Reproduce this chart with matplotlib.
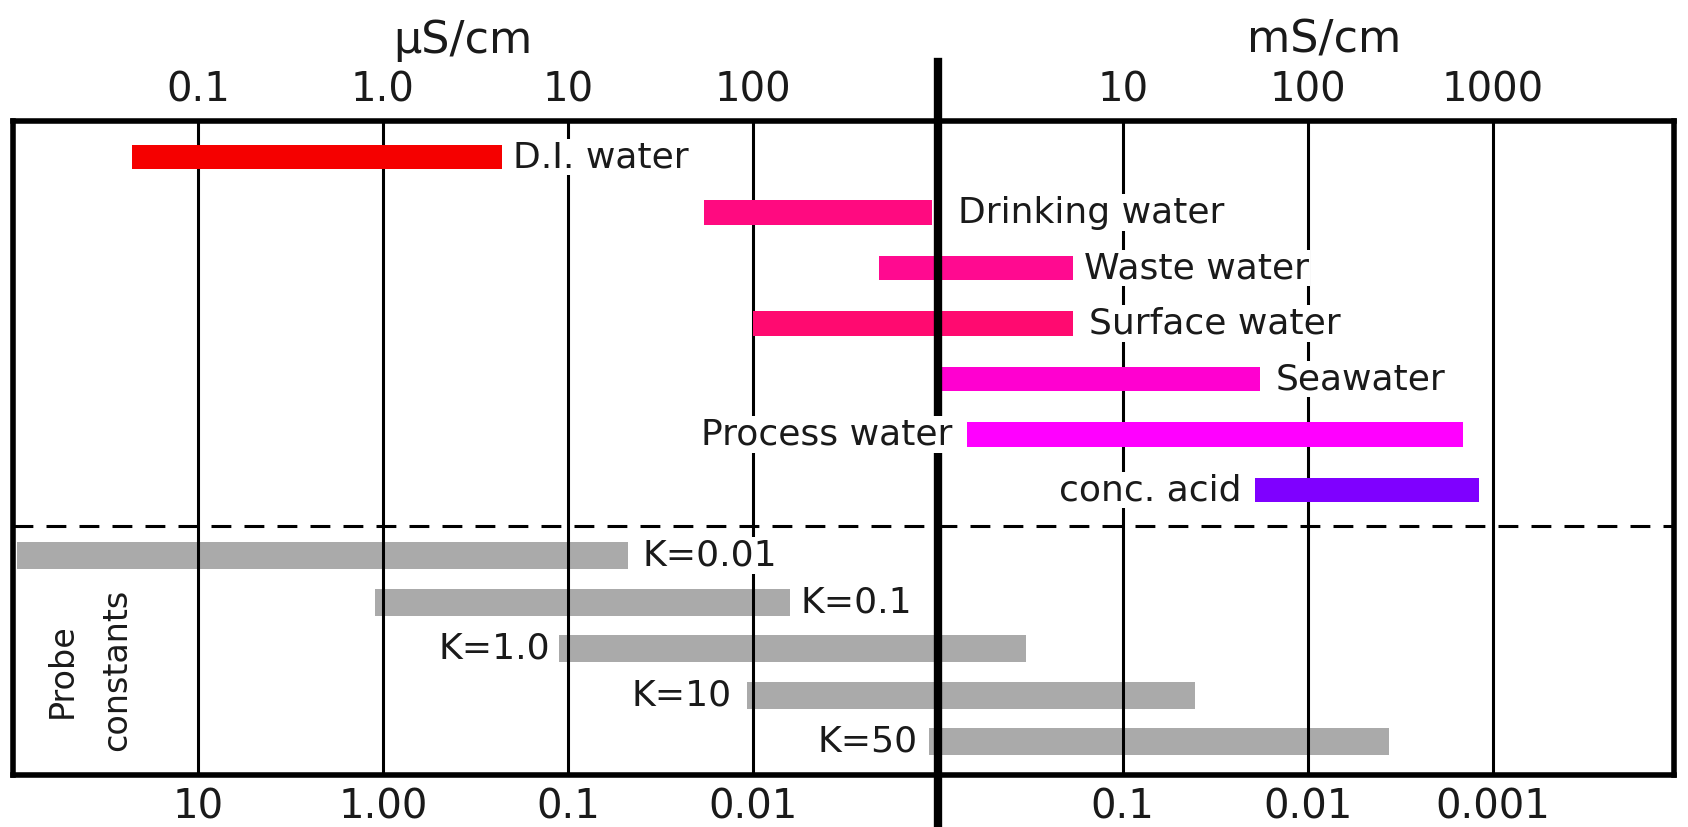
import numpy as np
import matplotlib
matplotlib.use("Agg")
import matplotlib.pyplot as plt
from matplotlib.ticker import NullLocator

# conductivity ranges, uS/cm
samples = ["D.I. water", "Drinking water", "Waste water", "Surface water",
           "Seawater", "Process water", "conc. acid"]
sample_low = [0.044, 54.5, 479, 100, 1047, 1445, 52100]
sample_high = [4.4, 929, 5370, 5370, 55000, 692000, 845000]
sample_colors = ["#f50000", "#ff0a80", "#ff0a90", "#ff0a70",
                 "#ff00d0", "#ff00ff", "#7f00ff"]
sample_label_left = [False, False, False, False, False, True, True]

probes = ["K=0.01", "K=0.1", "K=1.0", "K=10", "K=50"]
probe_low = [0.0105, 0.906, 8.9, 92.5, 891]
probe_high = [21.1, 158, 2985, 24500, 275000]
probe_label_left = [False, False, True, True, True]

# decade ticks in uS/cm
ticks = [0.1, 1, 10, 100, 1e4, 1e5, 1e6]
top_labels = ["0.1", "1.0", "10", "100", "10", "100", "1000"]
bottom_labels = ["10", "1.00", "0.1", "0.01", "0.1", "0.01", "0.001"]
split = 1000  # 1 mS/cm

plt.rcParams['font.family'] = ['DejaVu Sans']
txt_color = "#1a1a1a"

fig = plt.figure(figsize=(16.88, 8.27), dpi=100)
ax = fig.add_axes([13 / 1688, 52 / 827, 1661 / 1688, 654.4 / 827])
ax.set_xscale("log")
ax.set_xlim(1e-2, 10 ** 6.98)
ax.set_ylim(11.135, -0.656)
ax.minorticks_off()

bar_h = 0.45
sample_y = np.arange(len(samples))
probe_y = 7.18 + 0.84 * np.arange(len(probes))

# grid lines
for t in ticks:
    ax.axvline(t, color="black", lw=2.2, zorder=2)
ax.axvline(split, ymin=-0.08, ymax=1.09, color="black", lw=6, zorder=4,
           clip_on=False)
ax.axhline(6.65, color="black", lw=2.2, ls=(0, (6.5, 4.3)), zorder=2)

ax.barh(probe_y, np.array(probe_high) - np.array(probe_low), left=probe_low,
        height=bar_h * 1.08, color="#aaaaaa", zorder=1)
ax.barh(sample_y, np.array(sample_high) - np.array(sample_low), left=sample_low,
        height=bar_h, color=sample_colors, zorder=3)

gap_sample = [11, 26, 11, 16, 16, 15, 14]
gap_probe = [15, 11, 8, 15, 11]


def put_label(name, y, lo, hi, left, g):
    if left:
        ax.annotate(name, (lo, y), xytext=(-g, 0), textcoords="offset pixels",
                    ha="right", va="center", fontsize=26, color=txt_color,
                    zorder=5, bbox=dict(fc="white", ec="none", pad=1))
    else:
        ax.annotate(name, (hi, y), xytext=(g, 0), textcoords="offset pixels",
                    ha="left", va="center", fontsize=26, color=txt_color,
                    zorder=5, bbox=dict(fc="white", ec="none", pad=1))


for i in range(len(samples)):
    put_label(samples[i], sample_y[i], sample_low[i], sample_high[i],
              sample_label_left[i], gap_sample[i])
for i in range(len(probes)):
    put_label(probes[i], probe_y[i], probe_low[i], probe_high[i],
              probe_label_left[i], gap_probe[i])

ax.text(0.0295, 0.16, "Probe", rotation=90, ha="center", va="center",
        fontsize=24, color=txt_color, transform=ax.transAxes)
ax.text(0.0625, 0.16, "constants", rotation=90, ha="center", va="center",
        fontsize=24, color=txt_color, transform=ax.transAxes)

# axes ticks: conductivity on top, resistivity below
ax.set_xticks(ticks)
ax.set_xticklabels(top_labels)
ax.xaxis.tick_top()
ax.tick_params(axis="x", length=0, pad=7, labelsize=29, labelcolor=txt_color)
ax.set_yticks([])
sec = ax.secondary_xaxis("bottom")
sec.set_xticks(ticks)
sec.set_xticklabels(bottom_labels)
sec.xaxis.set_minor_locator(NullLocator())
sec.tick_params(axis="x", which="both", length=0, pad=9, labelsize=29,
                labelcolor=txt_color)
sec.spines["bottom"].set_visible(False)

for s in ax.spines.values():
    s.set_linewidth(4)
    s.set_color("black")

fig.text(463 / 1688, 1 - 40 / 827, "µS/cm", ha="center", va="center",
         fontsize=32, color=txt_color)
fig.text(1324 / 1688, 1 - 40 / 827, "mS/cm", ha="center", va="center",
         fontsize=32, color=txt_color)

fig.savefig("out.png", dpi=100, facecolor="white")
